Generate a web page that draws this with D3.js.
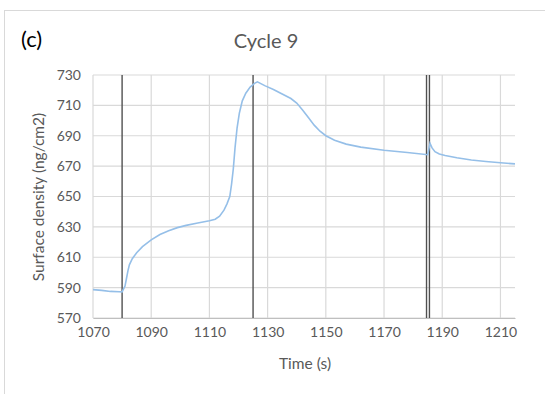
<!DOCTYPE html>
<html>
<head>
<meta charset="utf-8">
<script src="https://cdn.jsdelivr.net/npm/d3@7"></script>
<style>
  body { margin: 0; background: #fff; }
  text { font-family: Lato, "Open Sans", sans-serif; }
</style>
</head>
<body>
<div id="chart"></div>
<script>
const width = 545, height = 394;
const margin = ({top: 75, right: 30, bottom: 76, left: 93});

// time (s) and surface density (ng/cm2)
const times = [1070, 1073, 1076, 1079, 1080, 1081, 1081.5, 1082, 1082.5, 1083.5, 1085, 1087, 1090, 1093, 1096, 1099, 1102, 1106, 1110, 1112, 1113.5, 1115, 1116, 1117, 1117.6, 1118.2, 1118.8, 1119.5, 1120.3, 1121.3, 1122.5, 1124, 1125.5, 1126.5, 1129, 1132, 1135, 1138, 1140, 1142, 1144, 1146, 1148, 1150, 1153, 1157, 1162, 1170, 1178, 1185, 1185.8, 1186.5, 1187.5, 1189, 1191, 1195, 1200, 1205, 1210, 1215];
const density = [588.7, 588.2, 587.5, 587.3, 587.2, 591, 596, 601, 605, 609, 613, 617, 621.5, 625, 627.5, 629.5, 631, 632.5, 634, 635, 637, 641, 645, 650, 658, 668, 682, 695, 705, 713, 718, 722, 724.5, 725.5, 723, 720.5, 717.5, 714.5, 711.5, 707, 702, 697, 693, 690, 687, 684.5, 682.5, 680.5, 679, 677.5, 685, 682, 679.5, 678, 677, 675.5, 674, 673, 672.2, 671.5];

// marker lines (s)
const markers = [1080, 1125, 1184.6, 1185.6];

const xTicks = [1070, 1090, 1110, 1130, 1150, 1170, 1190, 1210];
const yTicks = [570, 590, 610, 630, 650, 670, 690, 710, 730];

const x = d3.scaleLinear()
    .domain([1070, 1215])
    .range([margin.left, width - margin.right]);

const y = d3.scaleLinear()
    .domain([570, 730])
    .range([height - margin.bottom, margin.top]);

const svg = d3.select("#chart").append("svg")
    .attr("width", width).attr("height", height);

// chart frame
svg.append("rect")
    .attr("x", 4.5).attr("y", 10.5)
    .attr("width", 560).attr("height", 400)
    .attr("fill", "none").attr("stroke", "#d9d9d9");

// grid
svg.append("g").selectAll("line").data(yTicks).join("line")
    .attr("x1", margin.left).attr("x2", width - margin.right)
    .attr("y1", d => y(d)).attr("y2", d => y(d))
    .attr("stroke", "#d9d9d9").attr("stroke-width", 1.2);
svg.append("g").selectAll("line").data(xTicks).join("line")
    .attr("x1", d => x(d)).attr("x2", d => x(d))
    .attr("y1", margin.top).attr("y2", height - margin.bottom)
    .attr("stroke", "#d9d9d9").attr("stroke-width", 1.2);

// axes
const xAxis = d3.axisBottom(x).tickValues(xTicks).tickFormat(d3.format("d")).tickSize(0).tickPadding(9);
const yAxis = d3.axisLeft(y).tickValues(yTicks).tickSize(0).tickPadding(12);

svg.append("g")
    .attr("transform", `translate(0,${height - margin.bottom})`)
    .call(xAxis)
    .call(g => g.select(".domain").attr("stroke", "#bfbfbf"))
    .call(g => g.selectAll("text").attr("fill", "#595959").attr("font-size", 14));

svg.append("g")
    .attr("transform", `translate(${margin.left},0)`)
    .call(yAxis)
    .call(g => g.select(".domain").remove())
    .call(g => g.selectAll("text").attr("fill", "#595959").attr("font-size", 14));

// marker lines
svg.append("g").selectAll("line").data(markers).join("line")
    .attr("x1", d => x(d)).attr("x2", d => x(d))
    .attr("y1", margin.top).attr("y2", height - margin.bottom)
    .attr("stroke", "#505050").attr("stroke-width", 1.4);

// data line
const line = d3.line()
    .x((d, i) => x(times[i]))
    .y(d => y(d));

svg.append("path")
    .datum(density)
    .attr("fill", "none")
    .attr("stroke", "#95bfe8")
    .attr("stroke-width", 1.6)
    .attr("d", line);

// titles
svg.append("text")
    .attr("x", 21).attr("y", 47)
    .attr("font-size", 22).attr("fill", "#000")
    .text("(c)");

svg.append("text")
    .attr("x", 266).attr("y", 48)
    .attr("text-anchor", "middle")
    .attr("font-size", 20).attr("fill", "#595959")
    .text("Cycle 9");

svg.append("text")
    .attr("x", 305).attr("y", 369)
    .attr("text-anchor", "middle")
    .attr("font-size", 15.5).attr("fill", "#595959")
    .text("Time (s)");

svg.append("text")
    .attr("transform", `translate(44,197) rotate(-90)`)
    .attr("text-anchor", "middle")
    .attr("font-size", 15.5).attr("fill", "#595959")
    .text("Surface density (ng/cm2)");
</script>
</body>
</html>
